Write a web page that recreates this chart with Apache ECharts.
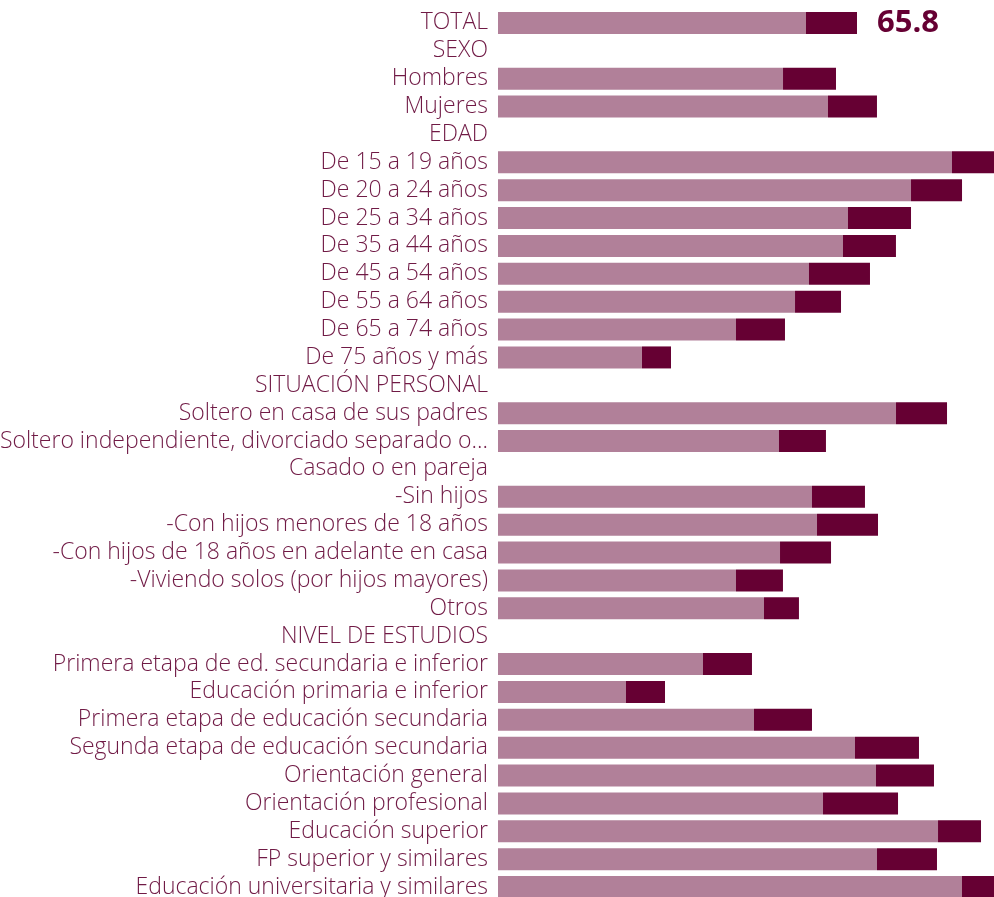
<!DOCTYPE html>
<html>
<head>
<meta charset="utf-8">
<script src="https://cdn.jsdelivr.net/npm/echarts@6/dist/echarts.min.js"></script>
<style>html,body{margin:0;padding:0;background:#fff}#c{width:994px;height:897px}</style>
</head>
<body>
<div id="c"></div>
<script>
var categories = ["TOTAL","SEXO","Hombres","Mujeres","EDAD","De 15 a 19 años","De 20 a 24 años","De 25 a 34 años","De 35 a 44 años","De 45 a 54 años","De 55 a 64 años","De 65 a 74 años","De 75 años y más","SITUACIÓN PERSONAL","Soltero en casa de sus padres","Soltero independiente, divorciado separado o viudo","Casado o en pareja","-Sin hijos","-Con hijos menores de 18 años","-Con hijos de 18 años en adelante en casa","-Viviendo solos (por hijos mayores)","Otros","NIVEL DE ESTUDIOS","Primera etapa de ed. secundaria e inferior","Educación primaria e inferior","Primera etapa de educación secundaria","Segunda etapa de educación secundaria","Orientación general","Orientación profesional","Educación superior","FP superior y similares","Educación universitaria y similares"];
var baseValues = [56.45,null,52.24,60.48,null,83.21,75.70,64.15,63.23,57.00,54.44,43.62,26.39,null,72.95,51.50,null,57.55,58.47,51.69,43.62,48.75,null,37.57,23.46,46.92,65.43,69.28,59.57,80.65,69.46,85.04];
var extraValues = [9.35,null,9.71,8.98,null,7.70,9.35,11.55,9.71,11.18,8.43,8.98,5.32,null,9.35,8.61,null,9.71,11.18,9.35,8.61,6.41,null,8.98,7.15,10.63,11.73,10.63,13.75,7.88,11.00,5.87];
var labelledCategories = ["TOTAL"];

var chart = echarts.init(document.getElementById('c'));
chart.setOption({
  animation: false,
  grid: {left: 498, right: 0, top: 9, height: 892, containLabel: false, outerBoundsMode: 'none'},
  xAxis: {type: 'value', min: 0, max: 90.91, show: false},
  yAxis: {
    type: 'category', data: categories, inverse: true,
    axisLine: {show: false}, axisTick: {show: false},
    axisLabel: {
      interval: 0, hideOverlap: false,
      color: '#701a45', fontSize: 23, fontFamily: 'Open Sans', fontWeight: 300,
      margin: 10, width: 494, overflow: 'truncate', ellipsis: '...',
      padding: [5, 0, 0, 0]
    }
  },
  series: [
    {type: 'bar', stack: 's', data: baseValues, barWidth: 22, itemStyle: {color: '#b18099'}},
    {type: 'bar', stack: 's', data: extraValues, barWidth: 22, itemStyle: {color: '#660033'},
     label: {
       show: true, position: 'right', distance: 20, color: '#660033',
       fontSize: 31, fontWeight: 'bold', fontFamily: 'Open Sans',
       formatter: function(p){
         if (labelledCategories.indexOf(p.name) < 0) return '';
         return (baseValues[p.dataIndex] + extraValues[p.dataIndex]).toFixed(1);
       }
     }}
  ]
});
</script>
</body>
</html>
